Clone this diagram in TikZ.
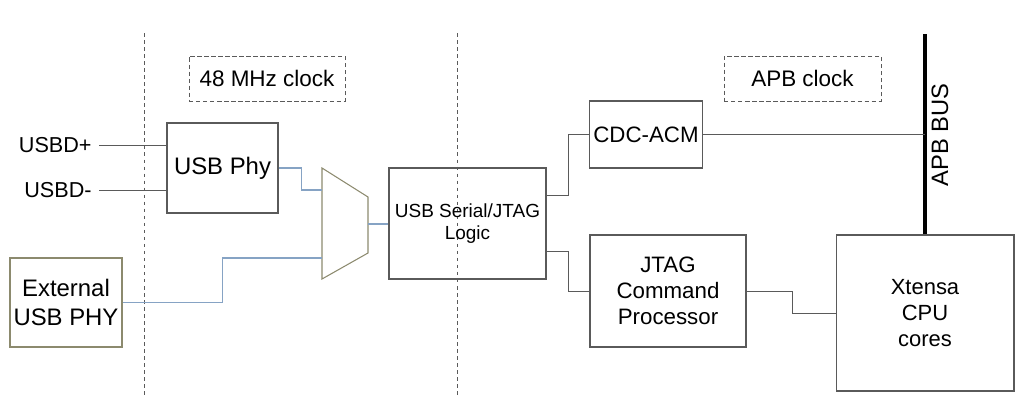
\documentclass[tikz,border=0pt]{standalone}
\usepackage{fontspec}
\setmainfont{Liberation Sans}
\usetikzlibrary{calc}
\definecolor{edgegray}{HTML}{5A5A5A}
\definecolor{muxedge}{HTML}{8C8A6E}
\definecolor{usbblue}{HTML}{86A3C4}
\tikzset{
  blk/.style={draw=edgegray, line width=.6pt, align=center, inner sep=2pt, font=\fontsize{12.7}{15}\selectfont},
  clk/.style={draw=edgegray, dashed, dash pattern=on 2.5pt off 1.5pt, line width=.5pt, inner sep=2pt, font=\fontsize{12.8}{15}\selectfont},
  pin/.style={anchor=east, inner sep=4pt, font=\fontsize{12.3}{14}\selectfont},
  wire/.style={draw=edgegray, line width=.5pt},
  usbwire/.style={draw=usbblue, line width=.6pt},
  divider/.style={draw=edgegray, dashed, dash pattern=on 2pt off 2pt, line width=.5pt},
  bus/.style={draw=black, line width=2.4pt}
}
\begin{document}
\begin{tikzpicture}[x=.02cm, y=-.02cm]
\useasboundingbox (0,0) rectangle (1024,409);
\foreach \x in {144,457}
{
    \draw[divider](\x,33)--(\x,395);
}
\node[clk, minimum width=3.12cm, minimum height=.9cm] (clkusb) at (267,78.5) {48 MHz clock};
\node[clk, minimum width=3.14cm, minimum height=.9cm] (clkapb) at (802.5,78.5) {APB clock};
\node[blk, minimum width=2.22cm, minimum height=1.8cm, font=\fontsize{13.6}{16}\selectfont] (phy) at (222.5,168) {USB Phy};
\node[blk, draw=muxedge, minimum width=2.24cm, minimum height=1.78cm, font=\fontsize{13.6}{16}\selectfont] (ext) at (66,302.5) {External\\USB PHY};
\node[blk, minimum width=3.14cm, minimum height=2.22cm, font=\fontsize{10.8}{12.7}\selectfont] (logic) at (467.5,223.5) {USB Serial/JTAG\\Logic};
\node[blk, minimum width=2.24cm, minimum height=1.34cm] (cdc) at (646,134.5) {CDC-ACM};
\node[blk, minimum width=3.12cm, minimum height=2.24cm, font=\fontsize{12.7}{14.7}\selectfont] (jtag) at (668,291) {JTAG\\Command\\Processor};
\node[blk, minimum width=3.56cm, minimum height=3.12cm, font=\fontsize{12.5}{15}\selectfont] (cpu) at (925,313) {Xtensa\\CPU\\cores};
\node[pin] (dp) at (99,145) {USBD+};
\node[pin] (dm) at (99,190) {USBD-};
\draw[wire](dp.east)--(dp.east-|phy.west);
\draw[wire](dm.east)--(dm.east-|phy.west);
% mux
\draw[muxedge, line width=.6pt](322,168)--(368,197)--(368,253)--(322,279)--cycle;
\coordinate (muxa) at (322,190);
\coordinate (muxb) at (322,258);
\coordinate (muxo) at (368,224);
\draw[usbwire](phy.east)--++(23,0)|-(muxa);
\draw[usbwire](ext.east)--++(100,0)|-(muxb);
\draw[usbwire](muxo)--(muxo-|logic.west);
\draw[wire]($(logic.east)+(0,-28)$)--++(22,0)|-(cdc.west);
\draw[wire]($(logic.east)+(0,28)$)--++(22,0)|-(jtag.west);
\draw[wire](jtag.east)--++(46,0)|-(cpu.west);
% APB bus
\coordinate (bustop) at (925,34);
\draw[bus](cpu.north)--(bustop);
\draw[wire](cdc.east)--(cdc.east-|bustop);
\node[rotate=90, font=\fontsize{13.5}{16}\selectfont] (apb) at (940,135) {APB BUS};
\end{tikzpicture}
\end{document}
